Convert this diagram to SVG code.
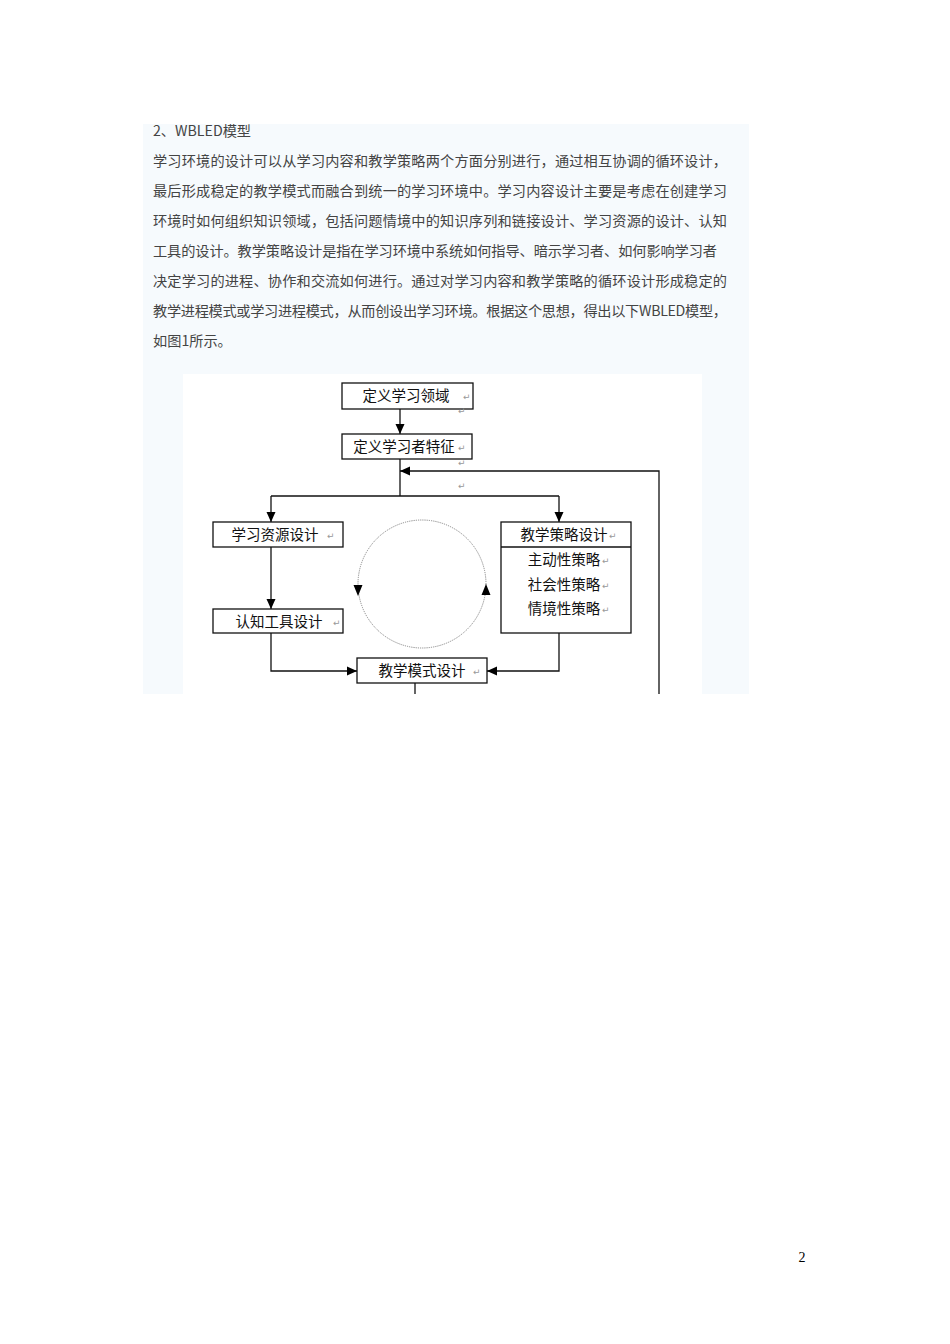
<svg xmlns="http://www.w3.org/2000/svg" width="950" height="1344" viewBox="0 0 950 1344">
<defs>
<style>
.para{font-family:"Noto Sans CJK SC","Liberation Sans",sans-serif;font-size:14.2px;fill:#444}
.lbl{font-family:"Noto Sans CJK SC","Liberation Sans",sans-serif;font-size:14.5px;fill:#111}
.rm{font-family:"DejaVu Sans",sans-serif;font-size:9px;fill:#999}
.box{fill:#fff;stroke:#111;stroke-width:1.3}
.ln{fill:none;stroke:#111;stroke-width:1.3}
</style>
<marker id="ah" markerUnits="userSpaceOnUse" markerWidth="10" markerHeight="10" viewBox="0 0 10 10" refX="10" refY="5" orient="auto">
<path d="M0,0.5 L10,5 L0,9.5 z" fill="#000"/>
</marker>
</defs>
<rect x="0" y="0" width="950" height="1344" fill="#fff"/>
<rect x="143" y="124" width="606" height="570" fill="#f6fafd"/>
<g id="text">
<text class="para" x="153" y="136">2、WBLED模型</text>
<text class="para" x="153" y="166" textLength="574" lengthAdjust="spacing">学习环境的设计可以从学习内容和教学策略两个方面分别进行，通过相互协调的循环设计，</text>
<text class="para" x="153" y="196" textLength="574" lengthAdjust="spacing">最后形成稳定的教学模式而融合到统一的学习环境中。学习内容设计主要是考虑在创建学习</text>
<text class="para" x="153" y="226" textLength="574" lengthAdjust="spacing">环境时如何组织知识领域，包括问题情境中的知识序列和链接设计、学习资源的设计、认知</text>
<text class="para" x="153" y="256" textLength="564" lengthAdjust="spacing">工具的设计。教学策略设计是指在学习环境中系统如何指导、暗示学习者、如何影响学习者</text>
<text class="para" x="153" y="286" textLength="574" lengthAdjust="spacing">决定学习的进程、协作和交流如何进行。通过对学习内容和教学策略的循环设计形成稳定的</text>
<text class="para" x="153" y="316" textLength="574" lengthAdjust="spacing">教学进程模式或学习进程模式，从而创设出学习环境。根据这个思想，得出以下WBLED模型，</text>
<text class="para" x="153" y="346">如图1所示。</text>
</g>
<rect x="183" y="374" width="519" height="320" fill="#fff"/>
<g id="connectors">
<line class="ln" x1="400" y1="409" x2="400" y2="434" marker-end="url(#ah)"/>
<line class="ln" x1="400" y1="459" x2="400" y2="496"/>
<line class="ln" x1="271" y1="496" x2="559" y2="496"/>
<line class="ln" x1="271" y1="496" x2="271" y2="522" marker-end="url(#ah)"/>
<line class="ln" x1="559" y1="496" x2="559" y2="522" marker-end="url(#ah)"/>
<line class="ln" x1="271" y1="547" x2="271" y2="609" marker-end="url(#ah)"/>
<path class="ln" d="M271,633 V671 H357" marker-end="url(#ah)"/>
<path class="ln" d="M559,633 V671 H487" marker-end="url(#ah)"/>
<line class="ln" x1="415" y1="683" x2="415" y2="694"/>
<path class="ln" d="M659,694 V471 H400" marker-end="url(#ah)"/>
<circle cx="422" cy="584" r="64" fill="none" stroke="#888" stroke-width="1" stroke-dasharray="1.2,1"/>
<path d="M353.5,585 L362.5,585 L358,596 z" fill="#000"/>
<path d="M481.5,595 L490.5,595 L486,584 z" fill="#000"/>
</g>
<g id="n1">
<rect class="box" x="342" y="383" width="131" height="26"/>
<text class="lbl" x="406" y="401" text-anchor="middle">定义学习领域</text>
<text class="rm" x="463" y="400">↵</text>
</g>
<text class="rm" x="458" y="414">↵</text>
<g id="n2">
<rect class="box" x="342" y="434" width="130" height="25"/>
<text class="lbl" x="404" y="452" text-anchor="middle">定义学习者特征</text>
<text class="rm" x="458" y="451">↵</text>
</g>
<text class="rm" x="458" y="466">↵</text>
<text class="rm" x="458" y="489">↵</text>
<g id="n3">
<rect class="box" x="213" y="522" width="130" height="25"/>
<text class="lbl" x="275" y="540" text-anchor="middle">学习资源设计</text>
<text class="rm" x="327" y="539">↵</text>
</g>
<g id="n4">
<rect class="box" x="213" y="609" width="130" height="24"/>
<text class="lbl" x="279" y="627" text-anchor="middle">认知工具设计</text>
<text class="rm" x="333" y="626">↵</text>
</g>
<g id="n5">
<rect class="box" x="357" y="658" width="130" height="25"/>
<text class="lbl" x="422" y="676" text-anchor="middle">教学模式设计</text>
<text class="rm" x="473" y="675">↵</text>
</g>
<g id="n6">
<rect class="box" x="501" y="522" width="130" height="111"/>
<line class="ln" x1="501" y1="547" x2="631" y2="547"/>
<text class="lbl" x="564" y="540" text-anchor="middle">教学策略设计</text>
<text class="rm" x="609" y="539">↵</text>
<text class="lbl" x="564" y="565" text-anchor="middle">主动性策略</text>
<text class="rm" x="602" y="564">↵</text>
<text class="lbl" x="564" y="590" text-anchor="middle">社会性策略</text>
<text class="rm" x="602" y="589">↵</text>
<text class="lbl" x="564" y="614" text-anchor="middle">情境性策略</text>
<text class="rm" x="602" y="613">↵</text>
</g>
<text x="802" y="1262" font-family="Liberation Serif,serif" font-size="14" fill="#000" text-anchor="middle">2</text>
</svg>
